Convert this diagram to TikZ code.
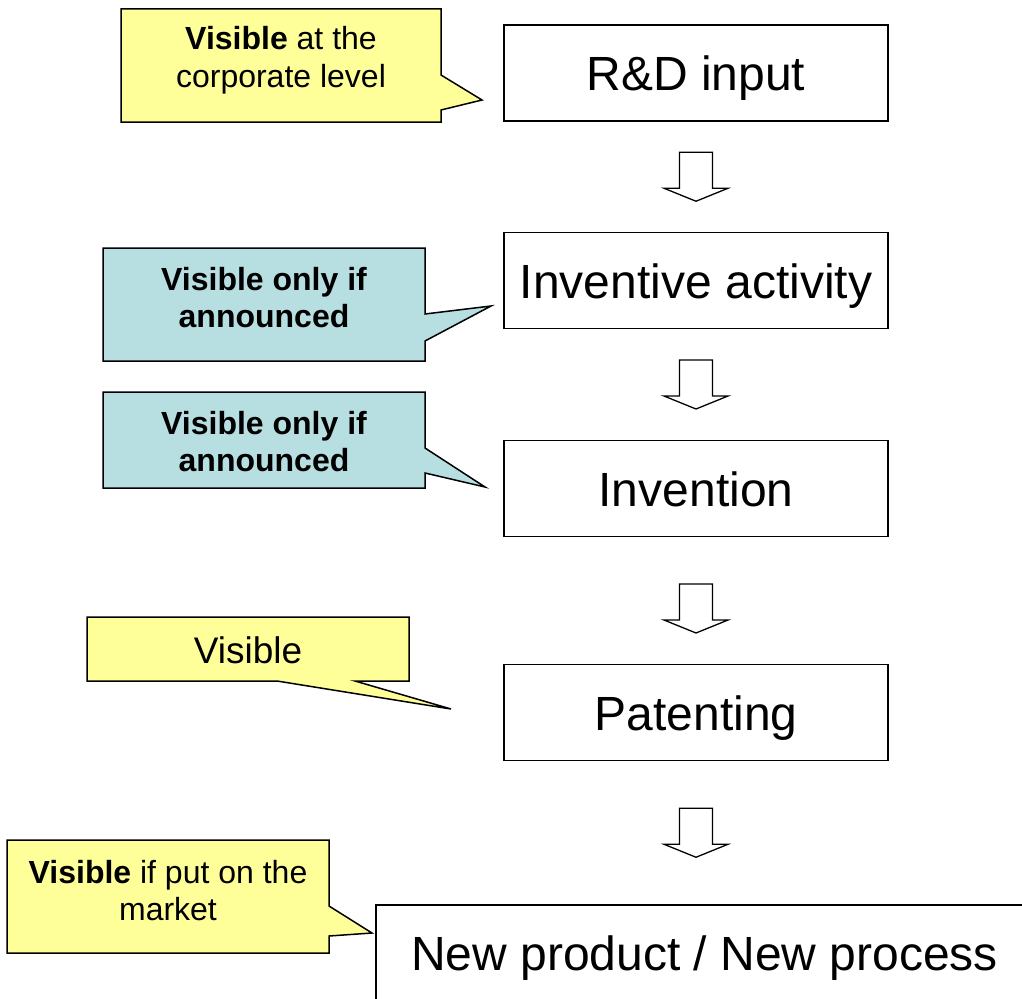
\documentclass[tikz,border=0pt]{standalone}
\usepackage{fontspec}
\setmainfont{Liberation Sans}
\usetikzlibrary{calc}
\definecolor{noteyellow}{RGB}{255,255,153}
\definecolor{noteblue}{RGB}{183,222,225}
\begin{document}
\begin{tikzpicture}[x=1pt,y=-1pt,
  stage/.style={draw=black, line width=1.5pt, fill=white, minimum width=384pt,
    minimum height=96pt, inner sep=0pt, text height=35pt, text depth=0pt,
    font=\fontsize{48}{55}\selectfont},
  bubble/.style={draw=black, line width=1.5pt, line join=miter},
  yellowbub/.style={bubble, fill=noteyellow},
  bluebub/.style={bubble, fill=noteblue},
  note/.style={align=center, inner sep=0pt, anchor=base,
    font=\fontsize{32}{37}\selectfont},
  flow/.style={draw=black, line width=1.3pt, fill=white, line join=miter},
  downflow/.pic={\path[flow] (-16.5,-24.5) -- (16.5,-24.5) -- (16.5,11.5)
    -- (32,11.5) -- (0,24.5) -- (-32,11.5) -- (-16.5,11.5) -- cycle;}
]
\useasboundingbox (0,0) rectangle (1022,998);
\clip (0,0) rectangle (1022,998);

% process stages
\node[stage] (s1) at (696,73)    {R\&D input};
\node[stage] (s2) at (696,280.5) {Inventive activity};
\node[stage] (s3) at (696,488.5) {Invention};
\node[stage] (s4) at (696,712.5) {Patenting};
\node[stage, minimum width=657pt] (s5) at (704.5,953) {New product / New process};

% block arrows between the stages
\pic at ($(s1.south)!0.5!(s2.north)$) {downflow};
\pic at ($(s2.south)!0.5!(s3.north)$) {downflow};
\pic at ($(s3.south)!0.5!(s4.north)+(0,8)$) {downflow};
\pic at ($(s4.south)!0.5!(s4.south |- s5.north)$) {downflow};

% callouts (the base of a two-line note is its last line)
\path[yellowbub] (121,9) -- (441,9) -- (441,75) -- (482,100) -- (441,110)
  -- (441,122) -- (121,122) -- cycle;
\node[note] (n1) at (281,87) {\textbf{Visible} at the\\corporate level};

\path[bluebub] (103,248) -- (425,248) -- (425,314) -- (491,306) -- (425,341)
  -- (425,361) -- (103,361) -- cycle;
\node[note, font=\fontsize{32}{37}\selectfont\bfseries] (n2) at (264,327)
  {Visible only if\\announced};

\path[bluebub] (103,392) -- (425,392) -- (425,448) -- (485,487) -- (425,473)
  -- (425,488) -- (103,488) -- cycle;
\node[note, font=\fontsize{32}{37}\selectfont\bfseries] (n3) at (264,471)
  {Visible only if\\announced};

\path[yellowbub] (87,617) -- (409,617) -- (409,681) -- (355,681) -- (451,709)
  -- (277,681) -- (87,681) -- cycle;
\node[note, font=\fontsize{37}{42}\selectfont] (n4) at (248,663) {Visible};

\path[yellowbub] (7,840) -- (329,840) -- (329,906) -- (372,933) -- (329,936)
  -- (329,953) -- (7,953) -- cycle;
\node[note] (n5) at (168,920) {\textbf{Visible} if put on the\\market};
\end{tikzpicture}
\end{document}
